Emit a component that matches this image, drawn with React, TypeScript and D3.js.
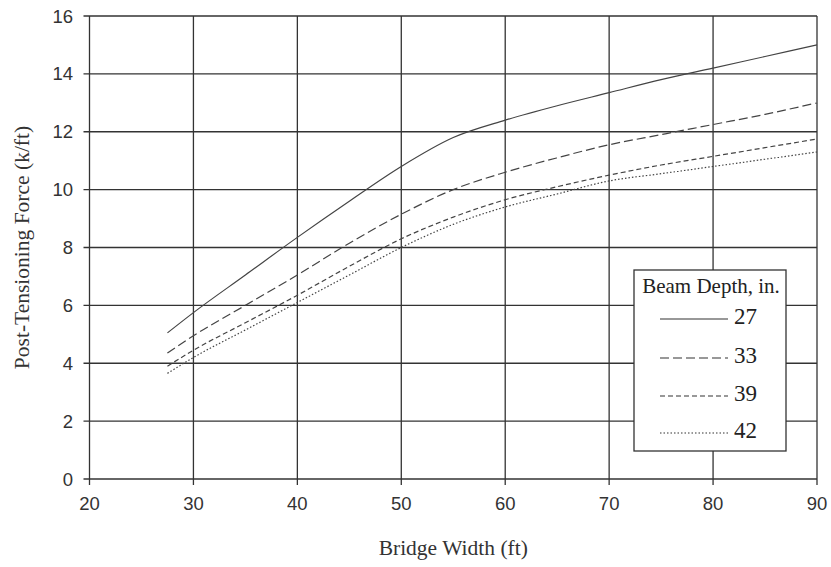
import React, { useEffect, useRef } from "react";
import * as d3 from "d3";

const widths = [27.5, 30, 35, 40, 45, 50, 55, 60, 65, 70, 75, 80, 85, 90];
const depth27 = [5.05, 5.75, 7.05, 8.35, 9.6, 10.8, 11.8, 12.4, 12.9, 13.35, 13.8, 14.2, 14.6, 15.0];
const depth33 = [4.35, 4.95, 6.0, 7.05, 8.15, 9.15, 10.0, 10.6, 11.1, 11.55, 11.9, 12.25, 12.6, 13.0];
const depth39 = [3.9, 4.45, 5.4, 6.35, 7.35, 8.3, 9.05, 9.65, 10.1, 10.5, 10.85, 11.15, 11.45, 11.75];
const depth42 = [3.65, 4.2, 5.15, 6.1, 7.05, 8.0, 8.8, 9.4, 9.85, 10.3, 10.55, 10.8, 11.05, 11.3];
const seriesNames = ["27", "33", "39", "42"];
const dashes = ["none", "9,4", "5,3", "1.5,2"];
const xTicks = [20, 30, 40, 50, 60, 70, 80, 90];
const yTicks = [0, 2, 4, 6, 8, 10, 12, 14, 16];

export default function App() {
  const svgRef = useRef<SVGSVGElement>(null);
  const width = 831;
  const height = 567;
  const marginLeft = 89.5;
  const marginRight = 14;
  const marginTop = 16;
  const marginBottom = 88;

  useEffect(() => {
    const svg = d3.select(svgRef.current);
    svg.selectAll("*").remove();

    const x = d3.scaleLinear().domain([20, 90]).range([marginLeft, width - marginRight]);
    const y = d3.scaleLinear().domain([0, 16]).range([height - marginBottom, marginTop]);
    const ink = "#333";
    const sans = "'Liberation Sans', Arial, sans-serif";
    const serif = "'Liberation Serif', 'Times New Roman', serif";

    // grid
    const grid = svg.append("g").attr("stroke", ink).attr("stroke-width", 1.3);
    grid.selectAll("line.v").data(xTicks).join("line")
      .attr("x1", (d) => x(d)).attr("x2", (d) => x(d))
      .attr("y1", y(16)).attr("y2", y(0) + 6);
    grid.selectAll("line.h").data(yTicks).join("line")
      .attr("x1", x(20) - 6).attr("x2", x(90))
      .attr("y1", (d) => y(d)).attr("y2", (d) => y(d));

    // tick labels
    svg.append("g").selectAll("text").data(xTicks).join("text")
      .attr("x", (d) => x(d)).attr("y", y(0) + 31)
      .attr("text-anchor", "middle")
      .attr("font-family", sans).attr("font-size", 18.5).attr("fill", ink)
      .text((d) => d);
    svg.append("g").selectAll("text").data(yTicks).join("text")
      .attr("x", 73).attr("y", (d) => y(d) + 6.5)
      .attr("text-anchor", "end")
      .attr("font-family", sans).attr("font-size", 18.5).attr("fill", ink)
      .text((d) => d);

    // axis titles
    svg.append("text")
      .attr("x", (x(20) + x(90)) / 2).attr("y", 555)
      .attr("text-anchor", "middle")
      .attr("font-family", serif).attr("font-size", 21.5).attr("fill", ink)
      .text("Bridge Width (ft)");
    svg.append("text")
      .attr("transform", `translate(29,${(y(0) + y(16)) / 2}) rotate(-90)`)
      .attr("text-anchor", "middle")
      .attr("font-family", serif).attr("font-size", 21.5).attr("fill", ink)
      .text("Post-Tensioning Force (k/ft)");

    // lines
    const all = [depth27, depth33, depth39, depth42];
    const line = d3.line<number>()
      .x((_, i) => x(widths[i]))
      .y((d) => y(d))
      .curve(d3.curveMonotoneX);
    svg.append("g").selectAll("path").data(all).join("path")
      .attr("d", (d) => line(d))
      .attr("fill", "none")
      .attr("stroke", "#444")
      .attr("stroke-width", 1.2)
      .attr("stroke-dasharray", (_, i) => dashes[i]);

    // legend
    const lg = svg.append("g");
    lg.append("rect")
      .attr("x", 634).attr("y", 270).attr("width", 152).attr("height", 181)
      .attr("fill", "white").attr("stroke", ink).attr("stroke-width", 1.3);
    lg.append("text")
      .attr("x", 711).attr("y", 293).attr("text-anchor", "middle")
      .attr("font-family", serif).attr("font-size", 21).attr("fill", "#222")
      .text("Beam Depth, in.");
    const ly = [319, 358, 396, 433];
    seriesNames.forEach((name, i) => {
      lg.append("line")
        .attr("x1", 660).attr("x2", 728).attr("y1", ly[i]).attr("y2", ly[i])
        .attr("stroke", "#333").attr("stroke-width", 1.2)
        .attr("stroke-dasharray", dashes[i]);
      lg.append("text")
        .attr("x", 734).attr("y", ly[i] + 5)
        .attr("font-family", serif).attr("font-size", 23).attr("fill", "#222")
        .text(name);
    });
  }, []);

  return (
    <svg
      ref={svgRef}
      width={width}
      height={height}
      style={{ position: "absolute", left: 0, top: 0, background: "white" }}
    />
  );
}
